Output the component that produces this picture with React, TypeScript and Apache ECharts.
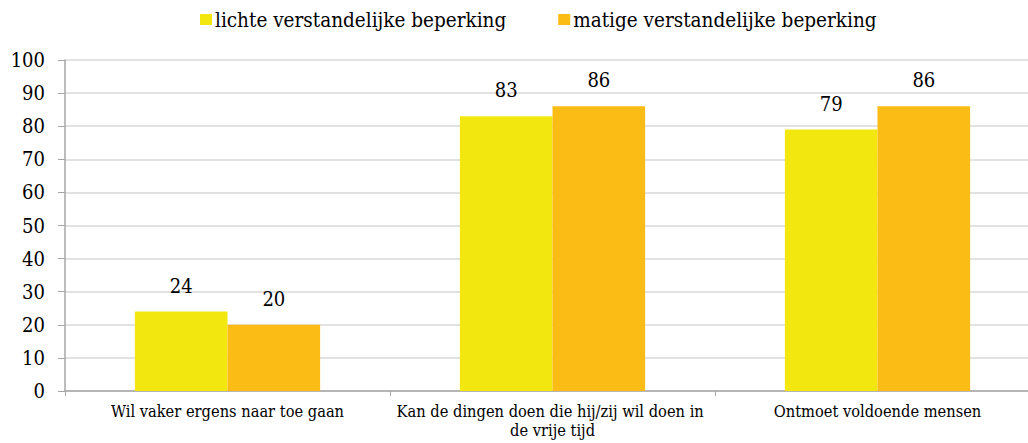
import React, { useEffect, useRef } from "react";
import * as echarts from "echarts";

const categories = [
  "Wil vaker ergens naar toe gaan",
  "Kan de dingen doen die hij/zij wil doen in de vrije tijd",
  "Ontmoet voldoende mensen",
];
const seriesNames = ["lichte verstandelijke beperking", "matige verstandelijke beperking"];
const lichte = [24, 83, 79];
const matige = [20, 86, 86];
const yTicks = { min: 0, max: 100, interval: 10 };

const FONT = "DejaVu Serif Condensed";

export default function App() {
  const ref = useRef<HTMLDivElement>(null);
  useEffect(() => {
    if (!ref.current) return;
    const chart = echarts.init(ref.current, undefined, { renderer: "svg" });
    const labelStyle = {
      show: true,
      position: "top" as const,
      distance: 16,
      fontFamily: FONT,
      fontSize: 20,
      color: "#000",
    };
    chart.setOption({
      animation: false,
      textStyle: { fontFamily: FONT },
      legend: {
        top: 4,
        left: 195,
        itemWidth: 12,
        itemHeight: 11,
        itemGap: 52,
        itemStyle: { borderWidth: 0 },
        icon: "rect",
        textStyle: { fontFamily: FONT, fontSize: 20.5, color: "#000", padding: [0, 0, 0, -2] },
        data: seriesNames,
      },
      grid: { left: 65, top: 60, right: 10, height: 331, containLabel: false },
      xAxis: {
        type: "category",
        data: categories,
        axisLine: { lineStyle: { color: "#a6a6a6", width: 1.5 } },
        axisTick: { show: true, length: 5, lineStyle: { color: "#a6a6a6" } },
        axisLabel: {
          interval: 0,
          fontFamily: FONT,
          fontSize: 16.3,
          color: "#000",
          margin: 11,
          width: 322,
          overflow: "break",
          lineHeight: 19,
        },
      },
      yAxis: {
        type: "value",
        min: yTicks.min,
        max: yTicks.max,
        interval: yTicks.interval,
        axisLine: { show: true, lineStyle: { color: "#a6a6a6", width: 1.5 } },
        axisTick: { show: true, length: 7, lineStyle: { color: "#a6a6a6" } },
        splitLine: { lineStyle: { color: "#d9d9d9", width: 1.5 } },
        axisLabel: { fontFamily: FONT, fontSize: 20, color: "#000", margin: 20 },
      },
      series: [
        {
          name: seriesNames[0],
          type: "bar",
          data: lichte,
          barGap: "0%",
          barCategoryGap: "43%",
          itemStyle: { color: "#F2E80F" },
          label: labelStyle,
        },
        {
          name: seriesNames[1],
          type: "bar",
          data: matige,
          itemStyle: { color: "#FBBC16" },
          label: labelStyle,
        },
      ],
    });
    return () => chart.dispose();
  }, []);
  return (
    <div
      style={{
        position: "fixed",
        left: 0,
        top: 0,
        width: 1028,
        height: 443,
        overflow: "hidden",
        background: "#fff",
      }}
    >
      <div ref={ref} style={{ width: 1050, height: 443 }} />
    </div>
  );
}
